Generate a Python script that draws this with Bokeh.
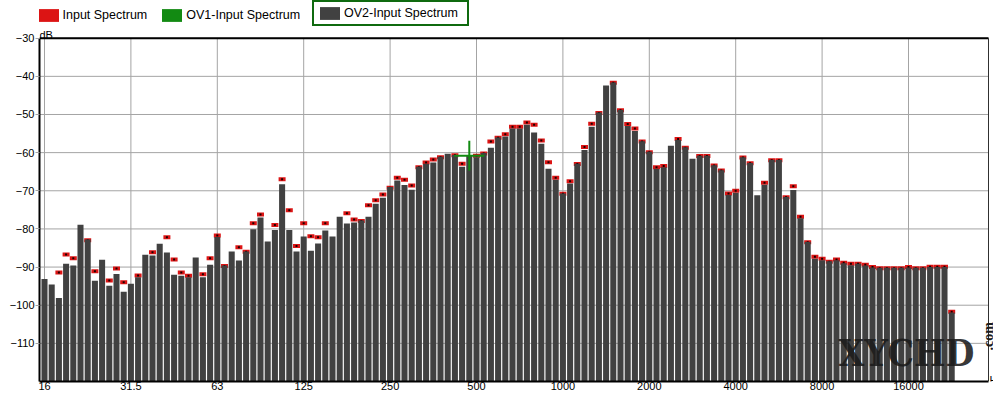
import math
from bokeh.plotting import figure
from bokeh.models import (ColumnDataSource, FixedTicker, Range1d, Legend,
                          LegendItem, Label)
from bokeh.embed import file_html
from bokeh.resources import INLINE

# ---------------- data ----------------
# 1/12-octave analysis bands starting at 16 Hz
BANDS_PER_OCTAVE = 12
START_FREQ = 16
band_index = list(range(127))
band_freq = [START_FREQ * 2 ** (k / BANDS_PER_OCTAVE) for k in band_index]

# OV2-Input Spectrum (grey bars), dB
ov2_input_db = [
    -93.1, -94.6, -98.1, -89.1, -89.6, -78.9, -82.8, -93.6, -88.1, -94.9,
    -91.8, -96.5, -94.4, -92.7, -86.8, -87.0, -83.9, -86.2, -92.0, -92.3,
    -92.7, -87.5, -92.7, -89.4, -82.1, -89.6, -85.9, -88.3, -85.9, -80.1,
    -77.0, -83.3, -80.3, -68.3, -80.3, -85.9, -82.0, -85.7, -83.8, -80.4,
    -82.0, -76.8, -78.6, -78.3, -77.8, -76.8, -73.4, -71.8, -69.0, -67.3,
    -68.5, -69.7, -63.7, -62.9, -62.6, -61.1, -60.3, -60.6, -63.7, -60.8,
    -61.2, -60.1, -58.7, -56.0, -55.8, -53.7, -53.7, -52.7, -54.7, -57.7,
    -64.2, -67.1, -70.7, -68.1, -62.9, -59.3, -53.2, -49.5, -42.4, -41.6,
    -48.8, -53.0, -54.3, -57.0, -59.8, -64.2, -63.8, -58.2, -56.7, -58.6,
    -61.6, -60.8, -60.8, -63.3, -64.6, -71.1, -70.5, -61.2, -62.7, -71.2,
    -68.4, -61.9, -61.9, -71.6, -69.8, -77.2, -83.4, -87.8, -88.2, -88.5,
    -88.2, -89.0, -89.5, -89.1, -89.6, -90.1, -90.2, -90.2, -90.2, -90.2,
    -90.1, -90.2, -90.2, -90.0, -90.0, -90.0, -101.9,
]

# Input Spectrum (red markers), dB; None = hidden behind the bar
input_db = [
    None, None, -91.4, -86.7, -87.7, None, -83.0, -91.1, None, -93.5,
    -90.4, -94.0, None, -92.2, None, -86.1, None, -82.2, -88.0, -91.4,
    -92.3, None, -91.9, -87.7, -81.7, -89.7, None, -84.8, -86.0, -78.5,
    -76.2, None, -79.0, -67.0, -75.1, -84.5, -78.5, -81.9, -82.2, -78.5,
    None, None, -75.9, -77.5, -77.9, -73.8, -72.5, -71.0, -69.2, -66.6,
    -67.1, -68.6, -63.8, -62.6, -61.8, -61.2, None, -60.7, -62.9, None,
    -60.8, -60.2, -57.1, -56.1, -55.2, -53.2, -53.2, -52.1, -52.7, -56.8,
    -62.5, -66.6, -70.8, -67.5, -63.0, -58.5, -52.4, -49.6, None, -41.7,
    -48.9, -52.5, -53.7, -57.1, -59.9, -63.8, -63.5, None, -56.4, -58.7,
    None, -60.9, -60.9, -63.4, -64.7, -70.7, -70.0, -61.3, -62.8, None,
    -67.9, -62.0, -62.0, -71.7, -68.8, -76.8, -83.5, -87.3, -87.8, -88.6,
    -88.0, -88.9, -89.1, -89.1, -89.4, -90.0, -90.3, -90.3, -90.3, -90.3,
    -90.0, -90.3, -90.3, -89.9, -89.9, -89.9, -101.7,
]

# OV1-Input Spectrum cursor
ov1_cursor_band = 59
ov1_cursor_db = -60.8

x_tick_freqs = [16, 32, 64, 128, 256, 512, 1024, 2048, 4096, 8192, 16384]
x_tick_labels = ["16", "31.5", "63", "125", "250", "500", "1000", "2000",
                 "4000", "8000", "16000"]
y_ticks = [-110, -100, -90, -80, -70, -60, -50, -40, -30]
Y_MIN, Y_MAX = -120, -30

# ---------------- styling / layout ----------------
FONT = "Liberation Sans"
BAR_COLOR = "#414141"
MARK_RED = "#dc1414"
GREEN = "#128a12"
GRID = "#a4a4a4"

FRAME_LEFT = 39          # page px
FRAME_W = 954            # frame runs to the right page edge
FRAME_H = 381            # frame starts at the top page edge
PLOT_RIGHT = 988         # visible right border of the chart box
TOP_LINE_Y = 37.7        # page y of the -30 dB line

PX_PER_OCT = 86.4
F16_X = 44
x_lo = START_FREQ * 2 ** ((FRAME_LEFT - F16_X) / PX_PER_OCT)
x_hi = START_FREQ * 2 ** ((FRAME_LEFT + FRAME_W - F16_X) / PX_PER_OCT)
x_box = START_FREQ * 2 ** ((PLOT_RIGHT - F16_X) / PX_PER_OCT)
px_per_db = (FRAME_H - TOP_LINE_Y) / (Y_MAX - Y_MIN)
y_top = Y_MAX + TOP_LINE_Y / px_per_db

p = figure(frame_width=FRAME_W, frame_height=FRAME_H, x_axis_type="log",
           x_range=Range1d(x_lo, x_hi), y_range=Range1d(Y_MIN, y_top),
           output_backend="svg", toolbar_location=None)
p.min_border_left = FRAME_LEFT
p.min_border_right = 0
p.min_border_top = 0
p.min_border_bottom = 14
p.background_fill_color = "white"
p.border_fill_color = "white"
p.outline_line_color = None
p.xgrid.visible = False
p.ygrid.visible = False

# axes
xt = FixedTicker(ticks=x_tick_freqs)
p.xaxis.ticker = xt
p.xaxis.major_label_overrides = dict(zip(x_tick_freqs, x_tick_labels))
p.xaxis.minor_tick_line_color = None
p.xaxis.major_tick_out = 0
p.xaxis.major_tick_in = 0
p.xaxis.major_label_standoff = 0
p.xaxis.bounds = (x_lo, x_box)
yt = FixedTicker(ticks=y_ticks)
p.yaxis.ticker = yt
p.yaxis.minor_tick_line_color = None
p.yaxis.major_tick_out = 4
p.yaxis.major_tick_in = 0
p.yaxis.major_tick_line_color = GRID
p.yaxis.major_label_standoff = 1
p.yaxis.bounds = (Y_MIN, Y_MAX)
for ax in (p.xaxis, p.yaxis):
    ax.axis_line_color = "black"
    ax.axis_line_width = 2
    ax.major_label_text_font = FONT
    ax.major_label_text_font_size = "11px"
    ax.major_label_text_color = "black"

# grid lines limited to the chart box
p.segment(x0=x_tick_freqs, x1=x_tick_freqs, y0=[Y_MIN] * len(x_tick_freqs),
          y1=[Y_MAX] * len(x_tick_freqs), line_color=GRID, line_width=1)
p.segment(x0=[x_lo] * len(y_ticks), x1=[x_box] * len(y_ticks), y0=y_ticks,
          y1=y_ticks, line_color=GRID, line_width=1)

# half-width of a bar, in bands
HALF = 0.42
bars_src = ColumnDataSource(dict(
    left=[f * 2 ** (-HALF / BANDS_PER_OCTAVE) for f in band_freq],
    right=[f * 2 ** (HALF / BANDS_PER_OCTAVE) for f in band_freq],
    top=ov2_input_db,
    bottom=[Y_MIN] * len(band_freq),
))

in_f = [f for f, v in zip(band_freq, input_db) if v is not None]
in_v = [v for v in input_db if v is not None]
in_src = ColumnDataSource(dict(x=in_f, y=in_v))

r_in = p.rect(x="x", y="y", width=7, height=4, width_units="screen",
              height_units="screen", source=in_src, fill_color=MARK_RED,
              line_color=None)
p.rect(x="x", y="y", width=2, height=2, width_units="screen",
       height_units="screen", source=in_src, fill_color="#1a0000",
       line_color=None)

r_bars = p.quad(left="left", right="right", top="top", bottom="bottom",
                source=bars_src, fill_color=BAR_COLOR, line_color=None)

# chart box: top line and right border
p.segment(x0=[x_lo], x1=[x_box], y0=[Y_MAX], y1=[Y_MAX], line_color="black",
          line_width=2)
p.segment(x0=[x_box], x1=[x_box], y0=[Y_MIN], y1=[Y_MAX], line_color="#303030",
          line_width=1)

cur_src = ColumnDataSource(dict(
    x=[band_freq[ov1_cursor_band]] * 2,
    y=[ov1_cursor_db] * 2,
    w=[30, 2], h=[2, 30]))
r_ov1 = p.rect(x="x", y="y", width="w", height="h", width_units="screen",
               height_units="screen", source=cur_src, fill_color=GREEN,
               line_color=None)


def make_legend(items, loc, **kw):
    return Legend(items=items, orientation="horizontal", location=loc,
                  glyph_width=25, glyph_height=16, label_height=16,
                  label_standoff=2, spacing=12, margin=0,
                  background_fill_alpha=0,
                  label_text_font=FONT, label_text_font_size="12.5px",
                  label_text_color="black", **kw)


# tuple locations give the legend's bottom-left corner, frame-relative
leg_a = make_legend([LegendItem(label="Input Spectrum", renderers=[r_in], index=0),
                     LegendItem(label="OV1-Input Spectrum", renderers=[r_ov1], index=0)],
                    (-3.5, FRAME_H - 22.5), padding=0, border_line_color=None)
leg_b = make_legend([LegendItem(label="OV2-Input Spectrum", renderers=[r_bars], index=0)],
                    (273, FRAME_H - 25.5), padding=3, label_width=120,
                    border_line_color="#0f6a0f", border_line_width=2,
                    border_line_alpha=1.0)
p.add_layout(leg_a)
p.add_layout(leg_b)

# texts
p.add_layout(Label(x=0, y=FRAME_H - 34, x_units="screen", y_units="screen",
                   text="dB", text_baseline="alphabetic", text_align="left",
                   text_font=FONT, text_font_size="11px", text_color="black"))
p.add_layout(Label(x=PLOT_RIGHT + 1 - FRAME_LEFT, y=2, x_units="screen",
                   y_units="screen", text="Hz", text_baseline="alphabetic",
                   text_align="left", text_font=FONT, text_font_size="11px",
                   text_color="black"))
# watermark
p.add_layout(Label(x=799, y=29, x_units="screen", y_units="screen", text="XYCHD",
                   text_baseline="alphabetic", text_align="left",
                   text_font="DejaVu Serif Condensed", text_font_style="bold",
                   text_font_size="37px", text_color="#1c1c1c", text_alpha=0.9))
p.add_layout(Label(x=949, y=31, x_units="screen", y_units="screen", text=".com",
                   angle=math.pi / 2, text_baseline="alphabetic", text_align="left",
                   text_font="Liberation Serif", text_font_style="bold",
                   text_font_size="14px", text_color="#1c1c1c"))

open("out.html", "w").write(file_html(p, INLINE))
